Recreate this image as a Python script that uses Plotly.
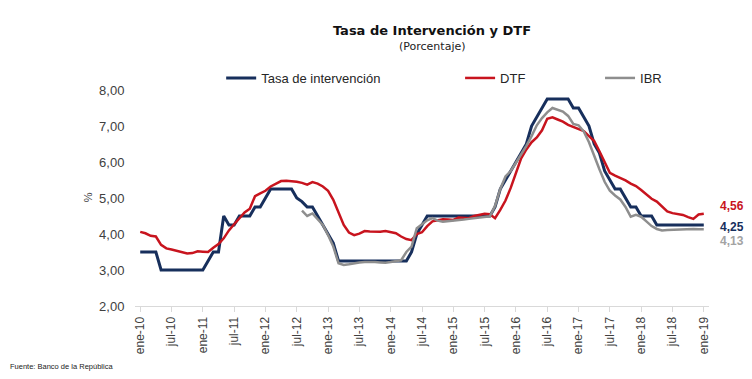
import plotly.graph_objects as go

# ---------------- data (monthly, ene-2010 .. ene-2019) ----------------
tick_labels = ["ene-10", "jul-10", "ene-11", "jul-11", "ene-12", "jul-12", "ene-13", "jul-13",
               "ene-14", "jul-14", "ene-15", "jul-15", "ene-16", "jul-16", "ene-17", "jul-17",
               "ene-18", "jul-18", "ene-19"]

tasa_intervencion = [
    3.50, 3.50, 3.50, 3.50, 3.00, 3.00, 3.00, 3.00, 3.00, 3.00, 3.00, 3.00,   # 2010
    3.00, 3.25, 3.50, 3.50, 4.50, 4.25, 4.25, 4.50, 4.50, 4.50, 4.75, 4.75,   # 2011
    5.00, 5.25, 5.25, 5.25, 5.25, 5.25, 5.00, 4.90, 4.75, 4.75, 4.50, 4.25,   # 2012
    4.00, 3.75, 3.25, 3.25, 3.25, 3.25, 3.25, 3.25, 3.25, 3.25, 3.25, 3.25,   # 2013
    3.25, 3.25, 3.25, 3.25, 3.50, 4.00, 4.25, 4.50, 4.50, 4.50, 4.50, 4.50,   # 2014
    4.50, 4.50, 4.50, 4.50, 4.50, 4.50, 4.50, 4.50, 4.75, 5.25, 5.50, 5.75,   # 2015
    6.00, 6.25, 6.50, 7.00, 7.25, 7.50, 7.75, 7.75, 7.75, 7.75, 7.75, 7.50,   # 2016
    7.50, 7.25, 7.00, 6.50, 6.25, 5.75, 5.50, 5.25, 5.25, 5.00, 4.75, 4.75,   # 2017
    4.50, 4.50, 4.50, 4.25, 4.25, 4.25, 4.25, 4.25, 4.25, 4.25, 4.25, 4.25,   # 2018
    4.25,                                                                     # ene-19
]

dtf = [
    4.06, 4.02, 3.95, 3.93, 3.70, 3.60, 3.57, 3.54, 3.50, 3.46, 3.47, 3.52,
    3.51, 3.50, 3.62, 3.72, 3.88, 4.10, 4.27, 4.42, 4.60, 4.70, 5.05, 5.13,
    5.20, 5.32, 5.40, 5.47, 5.48, 5.47, 5.45, 5.42, 5.37, 5.44, 5.40, 5.32,
    5.20, 4.95, 4.60, 4.25, 4.04, 3.97, 4.01, 4.08, 4.07, 4.06, 4.06, 4.08,
    4.06, 4.02, 3.93, 3.86, 3.83, 4.00, 4.05, 4.22, 4.35, 4.39, 4.41, 4.40,
    4.39, 4.46, 4.46, 4.44, 4.50, 4.54, 4.56, 4.55, 4.44, 4.67, 4.93, 5.28,
    5.72, 6.10, 6.35, 6.55, 6.68, 6.88, 7.20, 7.24, 7.18, 7.12, 7.03, 6.98,
    6.91, 6.86, 6.72, 6.58, 6.30, 6.00, 5.70, 5.62, 5.56, 5.49, 5.40, 5.33,
    5.22, 5.09, 4.98, 4.90, 4.76, 4.63, 4.58, 4.55, 4.53, 4.47, 4.42, 4.54,
    4.56,
]

# IBR shown from ago-2012 onwards
ibr = [None] * 31 + [
    4.65, 4.50, 4.57, 4.42, 4.25,                                            # ago-dic 2012
    3.97, 3.65, 3.19, 3.14, 3.16, 3.19, 3.21, 3.22, 3.23, 3.22, 3.21, 3.20,   # 2013
    3.22, 3.25, 3.27, 3.50, 3.65, 4.16, 4.28, 4.38, 4.44, 4.37, 4.34, 4.35,   # 2014
    4.37, 4.39, 4.40, 4.42, 4.44, 4.46, 4.47, 4.49, 4.78, 5.25, 5.60, 5.75,   # 2015
    5.98, 6.20, 6.45, 6.72, 7.02, 7.22, 7.38, 7.50, 7.45, 7.40, 7.28, 7.06,   # 2016
    7.02, 6.85, 6.55, 6.15, 5.80, 5.45, 5.20, 5.07, 4.96, 4.75, 4.48, 4.53,   # 2017
    4.48, 4.35, 4.22, 4.14, 4.10, 4.11, 4.12, 4.13, 4.14, 4.15, 4.14, 4.13,   # 2018
    4.13,                                                                     # ene-19
]

end_labels = ["4,56", "4,25", "4,13"]

months = list(range(len(dtf)))
tick_positions = list(range(0, len(dtf), 6))

# ---------------- styling ----------------
NAVY = "#172f5c"
RED = "#c8141e"
GRAY = "#8e8e8e"

OFF = 8                      # default page margin of the html body
W, H = 752 - 2 * OFF, 379 - 2 * OFF   # keep the page from scrolling
PL, PR = 134.8 - OFF, 709.0 - OFF     # plot left / right px
PT, PB = 90.0 - OFF, 306.0 - OFF      # plot top / bottom px
pw = PR - PL


def px2paper_x(px):
    return (px - OFF - PL) / pw


def py2paper_y(py):
    return (PB - (py - OFF)) / (PB - PT)


fig = go.Figure()
fig.add_trace(go.Scatter(x=months, y=tasa_intervencion, mode="lines", name="Tasa de intervención",
                         line=dict(color=NAVY, width=3), legend="legend"))
fig.add_trace(go.Scatter(x=months, y=dtf, mode="lines", name="DTF",
                         line=dict(color=RED, width=2.5), legend="legend2"))
fig.add_trace(go.Scatter(x=months, y=ibr, mode="lines", name="IBR",
                         line=dict(color=GRAY, width=2.5), legend="legend3"))

leg_font = dict(family="Liberation Sans, Arial, sans-serif", size=13, color="#262626")
leg_common = dict(orientation="h", yanchor="middle", xanchor="left", y=py2paper_y(78),
                  bgcolor="rgba(0,0,0,0)", font=leg_font, borderwidth=0)

fig.update_layout(
    width=W, height=H,
    margin=dict(l=PL, r=W - PR, t=PT, b=H - PB),
    paper_bgcolor="white", plot_bgcolor="white",
    separators=",.",
    showlegend=True,
    legend=dict(x=px2paper_x(221), **leg_common),
    legend2=dict(x=px2paper_x(460), **leg_common),
    legend3=dict(x=px2paper_x(600), **leg_common),
    title=dict(text="<b>Tasa de Intervención y DTF</b>", x=(432 - OFF) / W, xanchor="center",
               y=1 - (30 - OFF) / H, yanchor="middle", yref="container",
               font=dict(family="DejaVu Sans, sans-serif", size=13, color="#111111")),
    xaxis=dict(range=[-1, 109], tickmode="array", tickvals=tick_positions, ticktext=tick_labels,
               tickangle=-90, showgrid=False, zeroline=False,
               showline=True, linecolor="#d9d9d9", linewidth=1,
               ticks="outside", ticklen=5, tickcolor="#d9d9d9",
               tickfont=dict(family="Liberation Sans, Arial, sans-serif", size=12, color="#404040")),
    yaxis=dict(range=[2, 8], tickmode="array", tickvals=[2, 3, 4, 5, 6, 7, 8], tickformat=".2f",
               showgrid=False, zeroline=False, showline=False,
               ticks="outside", ticklen=7, tickcolor="rgba(0,0,0,0)",
               tickfont=dict(family="Liberation Sans, Arial, sans-serif", size=13, color="#404040")),
)

lab_font = "Liberation Sans, Arial, sans-serif"
annotations = [
    dict(text="(Porcentaje)", x=px2paper_x(432), y=py2paper_y(46), xref="paper", yref="paper",
         showarrow=False, xanchor="center", yanchor="middle",
         font=dict(family="DejaVu Sans, sans-serif", size=11, color="#222222")),
    dict(text="%", x=px2paper_x(88), y=py2paper_y(197), xref="paper", yref="paper",
         textangle=-90, showarrow=False, xanchor="center", yanchor="middle",
         font=dict(family=lab_font, size=11, color="#404040")),
    dict(text="Fuente: Banco de la República", x=px2paper_x(8), y=py2paper_y(366),
         xref="paper", yref="paper", showarrow=False, xanchor="left", yanchor="middle",
         font=dict(family=lab_font, size=7.5, color="#222222")),
    dict(text="<b>%s</b>" % end_labels[0], x=108, y=4.78, xref="x", yref="y", xshift=14,
         showarrow=False, xanchor="left", yanchor="middle",
         font=dict(family=lab_font, size=12, color=RED)),
    dict(text="<b>%s</b>" % end_labels[1], x=108, y=4.19, xref="x", yref="y", xshift=14,
         showarrow=False, xanchor="left", yanchor="middle",
         font=dict(family=lab_font, size=12, color=NAVY)),
    dict(text="<b>%s</b>" % end_labels[2], x=108, y=3.80, xref="x", yref="y", xshift=14,
         showarrow=False, xanchor="left", yanchor="middle",
         font=dict(family=lab_font, size=12, color="#a3a3a3")),
]
fig.update_layout(annotations=annotations)

fig.write_html("out.html")
